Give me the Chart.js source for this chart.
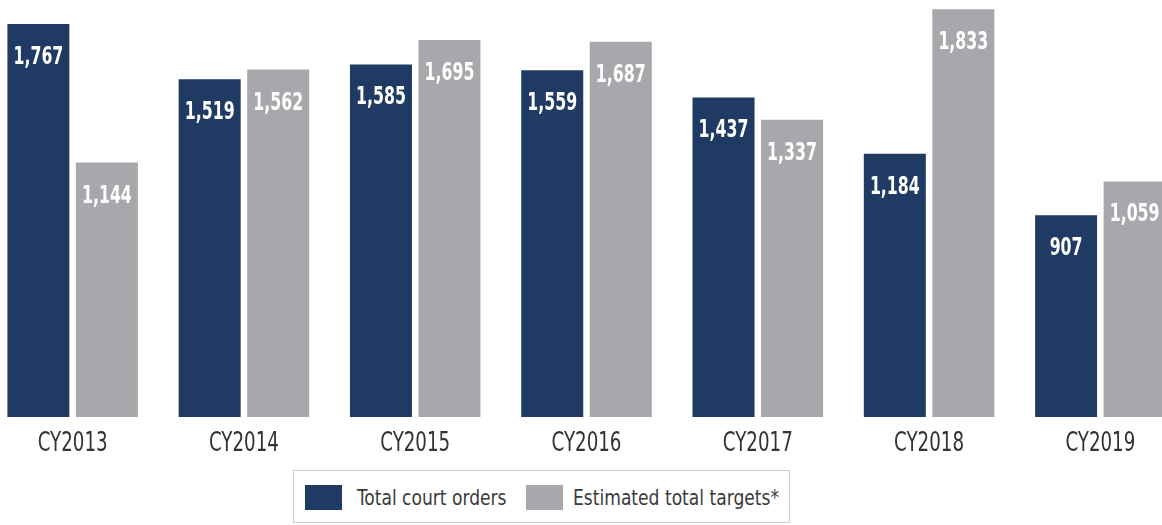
<!DOCTYPE html>
<html>
<head>
<meta charset="utf-8">
<script src="https://cdn.jsdelivr.net/npm/chart.js@4"></script>
<style>
  html, body { margin: 0; padding: 0; background: #fff; overflow: hidden; }
  body { width: 1162px; height: 525px; position: relative; }
  #wrap { position: absolute; left: -13px; top: 0; width: 1199px; height: 460px; }
  #legend {
    position: absolute; left: 293px; top: 470px; width: 497px; height: 53px;
    border: 1px solid #cfcfcf; box-sizing: border-box;
    font-family: "DejaVu Sans Condensed", sans-serif;
    font-size: 22px; color: #3a3a3a;
  }
  .sw { position: absolute; top: 14px; width: 37px; height: 25px; }
  .lt { position: absolute; top: 14px; line-height: 26px; white-space: nowrap;
        transform: scaleX(0.865); transform-origin: left center; }
</style>
</head>
<body>
<div id="wrap"><canvas id="chart"></canvas></div>
<div id="legend">
  <div class="sw" style="left:11px;background:#1f3b64"></div>
  <div class="lt" style="left:63px">Total court orders</div>
  <div class="sw" style="left:232px;background:#a7a8ab"></div>
  <div class="lt" style="left:279px">Estimated total targets*</div>
</div>
<script>
const years = ['CY2013', 'CY2014', 'CY2015', 'CY2016', 'CY2017', 'CY2018', 'CY2019'];
const courtOrders = [1767, 1519, 1585, 1559, 1437, 1184, 907];
const estTargets = [1144, 1562, 1695, 1687, 1337, 1833, 1059];

const labelFont = '"DejaVu Sans Condensed", sans-serif';

// draw condensed text: squeeze horizontally around (x, y)
function narrowText(ctx, text, x, y, squeeze) {
    ctx.save();
    ctx.translate(x, y);
    ctx.scale(squeeze, 1);
    ctx.fillText(text, 0, 0);
    ctx.restore();
}

// values inside the bars and the year labels under them
const barText = {
    id: 'barText',
    afterDatasetsDraw(chart) {
        const ctx = chart.ctx;
        ctx.save();
        ctx.textAlign = 'center';
        ctx.textBaseline = 'alphabetic';

        ctx.fillStyle = '#ffffff';
        ctx.font = 'bold 24px ' + labelFont;
        chart.data.datasets.forEach((ds, i) => {
            chart.getDatasetMeta(i).data.forEach((bar, j) => {
                narrowText(ctx, ds.data[j].toLocaleString('en-US'), bar.x, bar.y + 40, 0.73);
            });
        });

        const xs = chart.scales.x;
        ctx.fillStyle = '#333333';
        ctx.font = '26px ' + labelFont;
        chart.data.labels.forEach((lab, i) => {
            narrowText(ctx, lab, xs.getPixelForValue(i), chart.chartArea.bottom + 34, 0.78);
        });
        ctx.restore();
    }
};

const ctx = document.getElementById('chart').getContext('2d');
new Chart(ctx, {
    type: 'bar',
    data: {
        labels: years,
        datasets: [{
            label: 'Total court orders',
            data: courtOrders,
            backgroundColor: '#1f3b64'
        }, {
            label: 'Estimated total targets*',
            data: estTargets,
            backgroundColor: '#a7a8ab'
        }]
    },
    options: {
        responsive: true,
        maintainAspectRatio: false,
        animation: false,
        layout: { padding: { top: 0, bottom: 43, left: 0, right: 0 } },
        categoryPercentage: 0.8,
        barPercentage: 0.905,
        plugins: {
            legend: { display: false },
            tooltip: { enabled: false }
        },
        scales: {
            x: { display: false },
            y: { display: false, min: 0, max: 1875 }
        }
    },
    plugins: [barText]
});
</script>
</body>
</html>
